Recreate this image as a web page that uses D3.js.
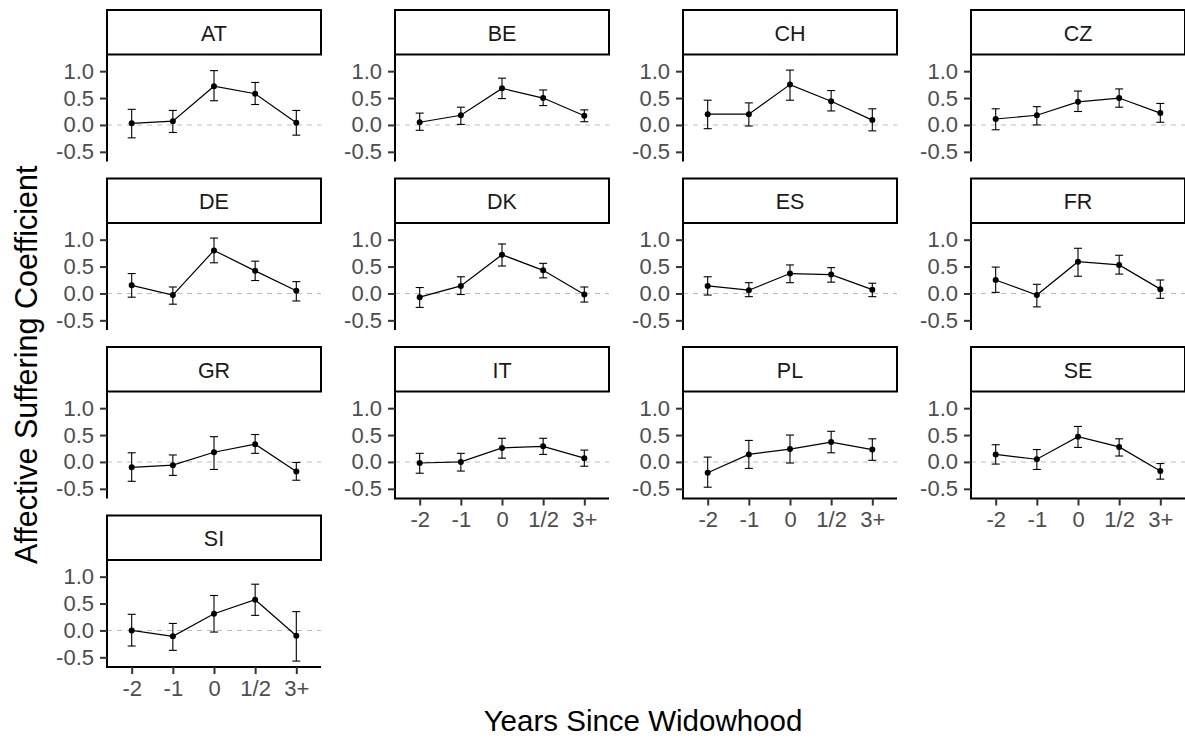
<!DOCTYPE html>
<html>
<head>
<meta charset="utf-8">
<script src="https://cdn.jsdelivr.net/npm/d3@7"></script>
<style>
  html, body { margin: 0; padding: 0; background: #fff; }
  svg { display: block; font-family: "Liberation Sans", Arial, Helvetica, sans-serif; }
</style>
</head>
<body>
<svg id="chart" width="1185" height="740"></svg>
<script>
// Countries, in facet order (left to right, top to bottom)
const countries = ["AT", "BE", "CH", "CZ", "DE", "DK", "ES", "FR", "GR", "IT", "PL", "SE", "SI"];
// Time relative to widowhood
const periods = ["-2", "-1", "0", "1/2", "3+"];
const yTicks = [-0.5, 0, 0.5, 1.0];

// Coefficient estimates, one row per country
const estimate = [
  [0.03, 0.07, 0.72, 0.58, 0.04],    // AT
  [0.05, 0.18, 0.68, 0.50, 0.17],    // BE
  [0.20, 0.20, 0.75, 0.44, 0.09],    // CH
  [0.11, 0.18, 0.43, 0.50, 0.22],    // CZ
  [0.15, -0.03, 0.80, 0.42, 0.05],   // DE
  [-0.07, 0.14, 0.72, 0.43, -0.02],  // DK
  [0.14, 0.06, 0.37, 0.35, 0.07],    // ES
  [0.25, -0.03, 0.59, 0.53, 0.08],   // FR
  [-0.10, -0.06, 0.18, 0.33, -0.18], // GR
  [-0.02, 0.00, 0.26, 0.29, 0.07],   // IT
  [-0.20, 0.14, 0.24, 0.37, 0.23],   // PL
  [0.14, 0.05, 0.47, 0.28, -0.17],   // SE
  [0.00, -0.11, 0.31, 0.57, -0.10]   // SI
];
// Lower bounds of the confidence intervals
const lower = [
  [-0.24, -0.14, 0.45, 0.38, -0.19],
  [-0.10, 0.01, 0.49, 0.36, 0.06],
  [-0.07, -0.02, 0.46, 0.26, -0.11],
  [-0.09, 0.00, 0.25, 0.33, 0.05],
  [-0.07, -0.20, 0.57, 0.24, -0.14],
  [-0.26, -0.02, 0.51, 0.29, -0.16],
  [-0.03, -0.06, 0.20, 0.21, -0.06],
  [0.02, -0.25, 0.32, 0.36, -0.09],
  [-0.36, -0.25, -0.14, 0.16, -0.34],
  [-0.21, -0.17, 0.07, 0.14, -0.08],
  [-0.47, -0.12, -0.02, 0.17, 0.03],
  [-0.04, -0.14, 0.27, 0.11, -0.32],
  [-0.29, -0.37, -0.03, 0.28, -0.57]
];
// Upper bounds of the confidence intervals
const upper = [
  [0.29, 0.27, 1.01, 0.79, 0.27],
  [0.22, 0.33, 0.87, 0.65, 0.28],
  [0.46, 0.41, 1.02, 0.64, 0.30],
  [0.30, 0.34, 0.63, 0.67, 0.40],
  [0.37, 0.12, 1.03, 0.60, 0.22],
  [0.11, 0.31, 0.92, 0.56, 0.12],
  [0.31, 0.20, 0.53, 0.48, 0.19],
  [0.49, 0.17, 0.84, 0.71, 0.25],
  [0.17, 0.13, 0.47, 0.51, -0.01],
  [0.16, 0.16, 0.44, 0.44, 0.22],
  [0.09, 0.40, 0.50, 0.57, 0.43],
  [0.32, 0.23, 0.66, 0.43, -0.03],
  [0.30, 0.13, 0.65, 0.86, 0.35]
];

const svg = d3.select("#chart");

// Facet grid geometry
const nCol = 4;
const colLeft = 107, colStep = 288, panelW = 214;
const rowTop = 10, rowStep = 168.5, stripH = 44.5, panelH = 107;

const x = d3.scalePoint().domain(periods).range([0, panelW]).padding(0.6);
const y = d3.scaleLinear().domain([-0.68, 1.31]).range([panelH, 0]);

const nRows = Math.ceil(countries.length / nCol);

countries.forEach((country, i) => {
  const col = i % nCol, row = Math.floor(i / nCol);
  const left = colLeft + col * colStep;
  const top = rowTop + row * rowStep;
  // x axis only on the lowest panel in each column
  const hasXAxis = (i + nCol) >= countries.length;

  const strip = svg.append("g").attr("transform", `translate(${left},${top})`);
  strip.append("rect")
    .attr("x", 0).attr("y", 0)
    .attr("width", panelW).attr("height", stripH)
    .attr("fill", "#fff").attr("stroke", "#000").attr("stroke-width", 2);
  strip.append("text")
    .attr("x", panelW / 2).attr("y", 30.5)
    .attr("text-anchor", "middle")
    .attr("font-size", 21.5).attr("fill", "#1a1a1a")
    .text(country);

  const g = svg.append("g").attr("transform", `translate(${left},${top + stripH})`);

  // reference line at zero
  g.append("line")
    .attr("x1", 0).attr("x2", panelW)
    .attr("y1", y(0)).attr("y2", y(0))
    .attr("stroke", "#bdbdbd").attr("stroke-width", 1.1)
    .attr("stroke-dasharray", "5,5");

  // y axis
  const yAxis = g.append("g")
    .call(d3.axisLeft(y).tickValues(yTicks).tickFormat(d3.format(".1f")).tickSize(7).tickPadding(6));
  yAxis.select(".domain").attr("stroke", "#000").attr("stroke-width", 2)
    .attr("d", `M0,0V${panelH}`);
  yAxis.selectAll(".tick line").attr("stroke", "#333").attr("stroke-width", 2);
  yAxis.selectAll(".tick text")
    .attr("font-size", 22).attr("fill", "#4d4d4d")
    .attr("font-family", "'Liberation Sans', Arial, sans-serif")
    .text(d => d3.format(".1f")(d).replace("−", "-"));

  if (hasXAxis) {
    const xAxis = g.append("g")
      .attr("transform", `translate(0,${panelH})`)
      .call(d3.axisBottom(x).tickSize(7).tickPadding(6));
    xAxis.select(".domain").attr("stroke", "#000").attr("stroke-width", 2)
      .attr("d", `M-1,0H${panelW}`);
    xAxis.selectAll(".tick line").attr("stroke", "#333").attr("stroke-width", 2);
    xAxis.selectAll(".tick text")
      .attr("font-size", 22).attr("fill", "#4d4d4d")
      .attr("font-family", "'Liberation Sans', Arial, sans-serif");
  }

  const pts = periods.map((p, k) => ({
    p, est: estimate[i][k], lo: lower[i][k], hi: upper[i][k]
  }));

  // error bars
  const capW = 4;
  const eb = g.append("g").attr("stroke", "#000").attr("stroke-width", 1.1);
  pts.forEach(d => {
    const cx = x(d.p);
    eb.append("line").attr("x1", cx).attr("x2", cx).attr("y1", y(d.lo)).attr("y2", y(d.hi));
    eb.append("line").attr("x1", cx - capW).attr("x2", cx + capW).attr("y1", y(d.lo)).attr("y2", y(d.lo));
    eb.append("line").attr("x1", cx - capW).attr("x2", cx + capW).attr("y1", y(d.hi)).attr("y2", y(d.hi));
  });

  // connecting line
  g.append("path")
    .datum(pts)
    .attr("fill", "none").attr("stroke", "#000").attr("stroke-width", 1.2)
    .attr("d", d3.line().x(d => x(d.p)).y(d => y(d.est)));

  // points
  g.selectAll("circle.pt").data(pts).enter().append("circle")
    .attr("class", "pt")
    .attr("cx", d => x(d.p)).attr("cy", d => y(d.est))
    .attr("r", 3).attr("fill", "#000");
});

// axis titles
const panelsTop = rowTop + stripH;
const panelsBottom = rowTop + (nRows - 1) * rowStep + stripH + panelH;
svg.append("text")
  .attr("transform", `translate(37,${(panelsTop + panelsBottom) / 2 + 4}) rotate(-90)`)
  .attr("text-anchor", "middle")
  .attr("font-size", 30.5).attr("fill", "#000")
  .text("Affective Suffering Coefficient");

svg.append("text")
  .attr("x", (colLeft + colLeft + (nCol - 1) * colStep + panelW) / 2 - 3)
  .attr("y", 731)
  .attr("text-anchor", "middle")
  .attr("font-size", 29.5).attr("fill", "#000")
  .text("Years Since Widowhood");
</script>
</body>
</html>
